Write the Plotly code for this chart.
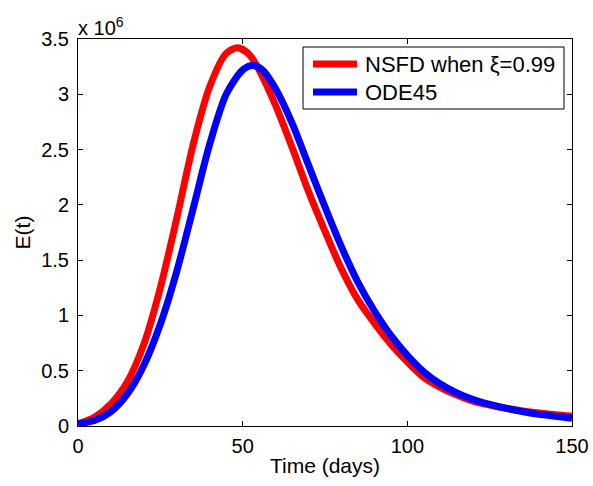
import plotly.graph_objects as go

# Time (days)
t_nsfd = [0, 5, 10, 15, 20, 25, 30, 35, 40, 45, 48.5, 52, 55, 60, 65, 70, 75, 80, 85, 90,
          95, 100, 105, 110, 115, 120, 125, 130, 135, 140, 145, 150]
# E(t) for NSFD (millions)
e_nsfd = [0.02, 0.08, 0.2, 0.4, 0.74, 1.25, 1.88, 2.55, 3.07, 3.37, 3.42, 3.36, 3.22, 2.9,
          2.52, 2.12, 1.76, 1.42, 1.14, 0.93, 0.74, 0.58, 0.44, 0.35, 0.28, 0.225, 0.19,
          0.16, 0.137, 0.118, 0.102, 0.09]

t_ode = [0, 5, 10, 15, 20, 25, 30, 35, 40, 45, 50, 53, 56, 60, 65, 70, 75, 80, 85, 90,
         95, 100, 105, 110, 115, 120, 125, 130, 135, 140, 145, 150]
# E(t) for ODE45 (millions)
e_ode = [0.02, 0.05, 0.13, 0.29, 0.55, 0.92, 1.4, 1.97, 2.55, 3.0, 3.22, 3.26, 3.22, 3.05,
         2.74, 2.36, 1.98, 1.62, 1.3, 1.04, 0.82, 0.64, 0.49, 0.38, 0.3, 0.24, 0.195,
         0.16, 0.13, 0.105, 0.088, 0.07]

series_names = ["NSFD when ξ=0.99", "ODE45"]
series_colors = ["#ff0000", "#0000ff"]

x_ticks = [0, 50, 100, 150]
y_ticks = [0, 0.5e6, 1e6, 1.5e6, 2e6, 2.5e6, 3e6, 3.5e6]
y_tick_labels = ["0", "0.5", "1", "1.5", "2", "2.5", "3", "3.5"]

FONT = "Liberation Sans, Arial, Helvetica, sans-serif"

fig = go.Figure()
for t, e, name, col in [(t_nsfd, e_nsfd, series_names[0], series_colors[0]),
                        (t_ode, e_ode, series_names[1], series_colors[1])]:
    fig.add_trace(go.Scatter(x=t, y=[v * 1e6 for v in e], mode="lines",
                             line=dict(color=col, width=7, shape="spline", smoothing=0.8),
                             name=name, showlegend=False))

axis_common = dict(showline=True, linecolor="black", linewidth=1, mirror="ticks",
                   ticks="inside", ticklen=5, tickcolor="black", showgrid=False,
                   zeroline=False, automargin=False,
                   tickfont=dict(size=20, color="black", family=FONT))

fig.update_layout(
    width=593, height=486,
    margin=dict(l=78, r=21, t=39, b=60, autoexpand=False),
    paper_bgcolor="white", plot_bgcolor="white",
    font=dict(family=FONT, color="black"),
    xaxis=dict(range=[0, 150], tickvals=x_ticks, ticktext=[str(v) for v in x_ticks],
               ticklabelstandoff=2,
               title=dict(text="Time (days)", font=dict(size=21), standoff=2), **axis_common),
    yaxis=dict(range=[0, 3.5e6], tickvals=y_ticks, ticktext=y_tick_labels,
               ticklabelstandoff=4,
               title=dict(text="E(t)", font=dict(size=21), standoff=4), **axis_common),
    showlegend=False,
)

# Legend box drawn in paper coordinates (MATLAB-style legend)
fig.add_shape(type="rect", xref="paper", yref="paper", x0=0.4555, x1=0.9838,
              y0=0.8191, y1=0.9793, line=dict(color="black", width=1), fillcolor="white",
              layer="above")
for i, (name, col) in enumerate(zip(series_names, series_colors)):
    yy = [0.9354, 0.8630][i]
    fig.add_shape(type="line", xref="paper", yref="paper", x0=0.4757, x1=0.5648,
                  y0=yy, y1=yy, line=dict(color=col, width=7), layer="above")
    fig.add_annotation(x=0.5769, y=yy, xref="paper", yref="paper", xanchor="left",
                       yanchor="middle", text=name, showarrow=False,
                       font=dict(size=22, color="black", family=FONT))

fig.add_annotation(x=0, y=1, xref="paper", yref="paper", xanchor="left", yanchor="bottom",
                   text="x 10<sup>6</sup>", showarrow=False,
                   font=dict(size=20, color="black", family=FONT), xshift=-2, yshift=-2)

fig.write_html("out.html", config={"displayModeBar": False},
               post_script="document.body.style.margin='0';document.body.style.padding='0';")
